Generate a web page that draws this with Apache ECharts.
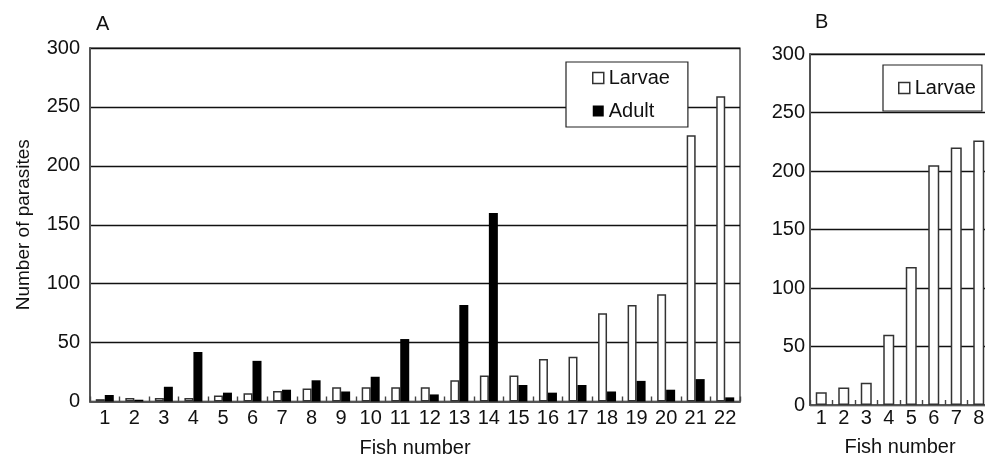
<!DOCTYPE html>
<html>
<head>
<meta charset="utf-8">
<script src="https://cdn.jsdelivr.net/npm/echarts@6/dist/echarts.min.js"></script>
<style>
html,body{margin:0;padding:0;background:#fff;}
#chart{width:985px;height:456px;}
</style>
</head>
<body>
<div id="chart"></div>
<script>
var fishA = ['1','2','3','4','5','6','7','8','9','10','11','12','13','14','15','16','17','18','19','20','21','22'];
var larvaeA = [2,3,3,3,5,7,9,11,12,12,12,12,18,22,22,36,38,75,82,91,226,259];
var adultA = [5.5,1.5,12.5,42,7.5,34.5,10,18,8.5,21,53,6,82,160,14,7.5,14,8.5,17.5,10,19,3.5];
var fishB = ['1','2','3','4','5','6','7','8'];
var larvaeB = [11,15,19,60,118,205,220,226];
var yTicks = [0,50,100,150,200,250,300];

var FONT = 'Liberation Sans, Arial, sans-serif';
var FS = 20;

function yAxis(gridIndex, labelMargin, withName) {
  return {
    type: 'value', gridIndex: gridIndex, min: yTicks[0], max: yTicks[yTicks.length-1], interval: 50,
    name: withName ? 'Number of parasites' : '',
    nameLocation: 'middle', nameGap: 57,
    nameTextStyle: {fontFamily: FONT, fontSize: 19, color: '#111'},
    axisLine: {show: true, lineStyle: {color: '#555', width: 2}},
    axisTick: {show: false},
    axisLabel: {fontFamily: FONT, fontSize: FS, color: '#111', margin: labelMargin},
    splitLine: {show: true, lineStyle: {color: '#111', width: 1.4}}
  };
}
function xAxis(gridIndex, data, labelMargin, nameGap) {
  return {
    type: 'category', gridIndex: gridIndex, data: data,
    name: 'Fish number', nameLocation: 'middle', nameGap: nameGap,
    nameTextStyle: {fontFamily: FONT, fontSize: FS, color: '#111'},
    axisLine: {show: true, lineStyle: {color: '#555', width: 2}},
    axisTick: {show: true, inside: true, length: 5, lineStyle: {color: '#444', width: 1.4}},
    axisLabel: {fontFamily: FONT, fontSize: FS, color: '#111', margin: labelMargin, interval: 0},
    splitLine: {show: false}
  };
}

var whiteStyle = {color: '#fff', borderColor: '#333', borderWidth: 1.5};
var blackStyle = {color: '#000', borderColor: '#000', borderWidth: 0};

var option = {
  animation: false,
  backgroundColor: '#fff',
  graphic: [
    {type: 'text', left: 96, top: 14, style: {text: 'A', font: FS + 'px ' + FONT, fill: '#111'}},
    {type: 'text', left: 815, top: 12, style: {text: 'B', font: FS + 'px ' + FONT, fill: '#111'}}
  ],
  grid: [
    {left: 90, top: 48, width: 650, height: 353.5, outerBoundsMode: 'none', containLabel: false, show: true, borderColor: '#222', borderWidth: 1.2, backgroundColor: 'transparent'},
    {left: 810, top: 54, width: 180, height: 351, outerBoundsMode: 'none', containLabel: false, show: true, borderColor: '#222', borderWidth: 1.2, backgroundColor: 'transparent'}
  ],
  legend: [
    {
      left: 566, top: 62, orient: 'vertical', selectedMode: false,
      backgroundColor: '#fff', borderColor: '#222', borderWidth: 1.2,
      padding: [6, 18, 6, 26], itemGap: 13, itemWidth: 11, itemHeight: 11,
      textStyle: {fontFamily: FONT, fontSize: FS, color: '#111', lineHeight: 19},
      data: [
        {name: 'Larvae', icon: 'rect', itemStyle: {color: '#fff', borderColor: '#333', borderWidth: 1.5}},
        {name: 'Adult', icon: 'rect', itemStyle: {color: '#000', borderColor: '#000', borderWidth: 0}}
      ]
    },
    {
      left: 883, top: 65, orient: 'vertical', selectedMode: false,
      backgroundColor: '#fff', borderColor: '#222', borderWidth: 1.2,
      padding: [13, 6, 13, 15], itemWidth: 11, itemHeight: 11,
      textStyle: {fontFamily: FONT, fontSize: FS, color: '#111', lineHeight: 19},
      data: [
        {name: 'Larvae', icon: 'rect', itemStyle: {color: '#fff', borderColor: '#333', borderWidth: 1.5}}
      ]
    }
  ],
  xAxis: [xAxis(0, fishA, 7, 37), xAxis(1, fishB, 3, 32)],
  yAxis: [yAxis(0, 10, true), yAxis(1, 5, false)],
  series: [
    {name: 'Larvae', type: 'bar', xAxisIndex: 0, yAxisIndex: 0, data: larvaeA, barWidth: 9, barGap: '0%', itemStyle: whiteStyle},
    {name: 'Adult', type: 'bar', xAxisIndex: 0, yAxisIndex: 0, data: adultA, barWidth: 9, barGap: '0%', itemStyle: blackStyle},
    {name: 'Larvae', type: 'bar', xAxisIndex: 1, yAxisIndex: 1, data: larvaeB, barWidth: 11, itemStyle: whiteStyle}
  ]
};

var chart = echarts.init(document.getElementById('chart'), null, {renderer: 'canvas'});
chart.setOption(option);
</script>
</body>
</html>
